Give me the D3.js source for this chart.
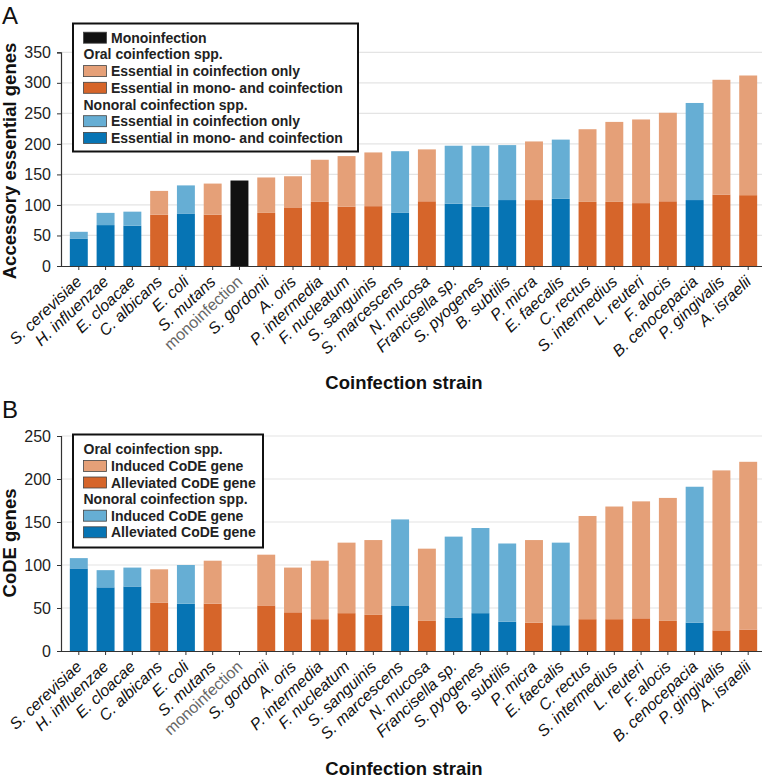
<!DOCTYPE html>
<html><head><meta charset="utf-8">
<script src="https://cdn.jsdelivr.net/npm/d3@7"></script>
<style>
html,body{margin:0;padding:0;background:#fff;}
svg{display:block;font-family:"Liberation Sans",Arial,Helvetica,sans-serif;}
</style></head>
<body><svg id="c" width="762" height="782"></svg>
<script>
const categories = ["S. cerevisiae","H. influenzae","E. cloacae","C. albicans","E. coli","S. mutans","monoinfection","S. gordonii","A. oris","P. intermedia","F. nucleatum","S. sanguinis","S. marcescens","N. mucosa","Francisella sp.","S. pyogenes","B. subtilis","P. micra","E. faecalis","C. rectus","S. intermedius","L. reuteri","F. alocis","B. cenocepacia","P. gingivalis","A. israelii"];
const origin = ["nonoral","nonoral","nonoral","oral","nonoral","oral","mono","oral","oral","oral","oral","oral","nonoral","oral","nonoral","nonoral","nonoral","oral","nonoral","oral","oral","oral","oral","nonoral","oral","oral"];
// Panel A: accessory essential genes
const essentialMonoAndCo = [45,67,66,84,86,84,140,87,96,105,97,98,87,106,102,97,108,108,110,105,105,103,106,108,117,116];
const essentialCoOnly    = [11,20,23,39,46,51,0,58,51,69,83,88,101,85,95,100,90,96,97,119,131,137,145,159,188,196];
// Panel B: CoDE genes
const alleviatedCoDE = [96,74,75,56,55,55,0,53,45,37,44,42,53,35,39,44,34,33,30,37,37,38,35,33,24,25];
const inducedCoDE    = [12,20,22,39,45,50,0,59,52,68,82,87,100,84,94,99,91,96,96,120,131,136,143,158,186,195];
const ticksA = [0,50,100,150,200,250,300,350];
const ticksB = [0,50,100,150,200,250];

const colors = {
  oral:{dark:"#d6652a", light:"#e5a078"},
  nonoral:{dark:"#0674b4", light:"#66aed4"},
  mono:{dark:"#111111", light:"#111111"}
};

const svg = d3.select("#c");
const x = d3.scaleBand().domain(categories).range([61, 766]).paddingInner(0.33).paddingOuter(0.33);

function panel(opts){
  const g = svg.append("g");
  const y = d3.scaleLinear().domain([0, opts.max]).range([opts.y0, opts.y1]);
  // gridlines
  g.append("g").selectAll("line").data(opts.ticks.filter(t=>t>0)).join("line")
    .attr("x1", 61).attr("x2", 762).attr("y1", d=>y(d)).attr("y2", d=>y(d))
    .attr("stroke", "#e4e4e4").attr("stroke-width", 1.2);
  // bars
  const rows = categories.map((c,i)=>({c, o:origin[i], a:opts.low[i], b:opts.high[i]}));
  g.append("g").selectAll("rect.low").data(rows.filter(d=>d.a>0)).join("rect")
    .attr("x", d=>x(d.c)).attr("width", x.bandwidth())
    .attr("y", d=>y(d.a)).attr("height", d=>y(0)-y(d.a))
    .attr("fill", d=>colors[d.o].dark);
  g.append("g").selectAll("rect.high").data(rows.filter(d=>d.b>0)).join("rect")
    .attr("x", d=>x(d.c)).attr("width", x.bandwidth())
    .attr("y", d=>y(d.a+d.b)).attr("height", d=>y(d.a)-y(d.a+d.b))
    .attr("fill", d=>colors[d.o].light);
  // y axis
  const ya = g.append("g").attr("transform","translate(61,0)")
    .call(d3.axisLeft(y).tickValues(opts.ticks).tickSize(4).tickPadding(6));
  ya.selectAll("text").attr("font-size", 16).attr("fill","#222").attr("font-family","'Liberation Sans',Arial,sans-serif");
  ya.select(".domain").attr("stroke","#333").attr("stroke-width",1.2);
  ya.selectAll(".tick line").attr("stroke","#333");
  // x axis
  const xa = g.append("g").attr("transform",`translate(0,${opts.y0})`)
    .call(d3.axisBottom(x).tickSize(4).tickSizeOuter(0));
  xa.select(".domain").attr("stroke","#333").attr("stroke-width",1.2).attr("d", `M61,0.5H762`);
  xa.selectAll(".tick line").attr("stroke","#333");
  xa.selectAll("text")
    .attr("font-size", 16)
    .attr("font-style", d=>d==="monoinfection"?"normal":"italic")
    .attr("fill", d=>d==="monoinfection"?"#666":"#111")
    .attr("text-anchor","end")
    .attr("dy", 0)
    .attr("y", 0)
    .attr("transform","translate(4,17) rotate(-43)");
  // axis titles
  svg.append("text").attr("transform",`translate(${opts.titleX},${opts.titleY}) rotate(-90)`)
    .attr("text-anchor","middle").attr("font-weight","bold").attr("font-size",18.5).attr("fill","#111")
    .text(opts.yTitle);
  svg.append("text").attr("x",404).attr("y",opts.xTitleY).attr("text-anchor","middle")
    .attr("font-weight","bold").attr("font-size",18.5).attr("fill","#111").text("Coinfection strain");
  svg.append("text").attr("x",2).attr("y",opts.letterY).attr("font-size",24).attr("fill","#111").text(opts.letter);
  // legend
  const L = svg.append("g");
  L.append("rect").attr("x",opts.leg.x).attr("y",opts.leg.y).attr("width",opts.leg.w).attr("height",opts.leg.h)
    .attr("fill","#fff").attr("stroke","#111").attr("stroke-width",2);
  opts.leg.items.forEach((it,i)=>{
    const cy = opts.leg.first + i*opts.leg.step;
    if(it.color){
      L.append("rect").attr("x",83.5).attr("y",cy-5.5).attr("width",23).attr("height",11)
        .attr("fill",it.color).attr("stroke","#444").attr("stroke-width",0.8);
      L.append("text").attr("x",111).attr("y",cy+5).attr("font-size",14).attr("font-weight","bold").attr("fill","#222").text(it.label);
    } else {
      L.append("text").attr("x",83.5).attr("y",cy+5).attr("font-size",14).attr("font-weight","bold").attr("fill","#222").text(it.label);
    }
  });
}

panel({
  max:350, y0:266, y1:52.3, ticks:ticksA, low:essentialMonoAndCo, high:essentialCoOnly,
  yTitle:"Accessory essential genes", titleX:16, titleY:161, xTitleY:389, letter:"A", letterY:24,
  leg:{x:73,y:23.5,w:285,h:128,first:37.7,step:16.7,items:[
    {label:"Monoinfection", color:colors.mono.dark},
    {label:"Oral coinfection spp."},
    {label:"Essential in coinfection only", color:colors.oral.light},
    {label:"Essential in mono- and coinfection", color:colors.oral.dark},
    {label:"Nonoral coinfection spp."},
    {label:"Essential in coinfection only", color:colors.nonoral.light},
    {label:"Essential in mono- and coinfection", color:colors.nonoral.dark}
  ]}
});
panel({
  max:250, y0:651, y1:436, ticks:ticksB, low:alleviatedCoDE, high:inducedCoDE,
  yTitle:"CoDE genes", titleX:16, titleY:543, xTitleY:775, letter:"B", letterY:418,
  leg:{x:73,y:434.5,w:190,h:113,first:449.3,step:16.6,items:[
    {label:"Oral coinfection spp."},
    {label:"Induced CoDE gene", color:colors.oral.light},
    {label:"Alleviated CoDE gene", color:colors.oral.dark},
    {label:"Nonoral coinfection spp."},
    {label:"Induced CoDE gene", color:colors.nonoral.light},
    {label:"Alleviated CoDE gene", color:colors.nonoral.dark}
  ]}
});
</script></body></html>
